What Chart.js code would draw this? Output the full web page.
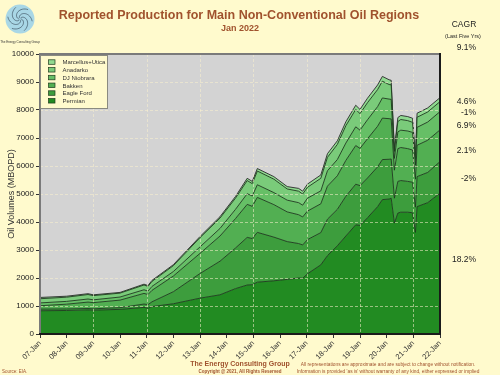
<!DOCTYPE html>
<html>
<head>
<meta charset="utf-8">
<script src="https://cdn.jsdelivr.net/npm/chart.js@4.4.1/dist/chart.umd.min.js"></script>
<style>
  html, body { margin: 0; padding: 0; background: #FFFACD; }
  #wrap { width: 500px; height: 375px; }
</style>
</head>
<body>
<div id="wrap"><canvas id="prodChart" width="500" height="375"></canvas></div>
<script>
// sample dates (decimal years)
const dates = [2007.0, 2008.0, 2008.8, 2009.0, 2010.0, 2010.9, 2011.05, 2011.2, 2012.0, 2013.0,
  2013.75, 2014.33, 2014.77, 2014.96, 2015.15, 2015.77, 2016.27, 2016.7, 2016.85, 2017.03,
  2017.53, 2017.78, 2018.15, 2018.47, 2018.84, 2019.0, 2019.28, 2019.66, 2019.84, 2020.09,
  2020.17, 2020.29, 2020.42, 2020.53, 2020.79, 2020.97, 2021.08, 2021.14, 2021.54, 2022.0];

// production by region, MBOPD
const permian = [830, 840, 860, 850, 880, 950, 920, 980, 1080, 1280,
  1400, 1620, 1750, 1760, 1850, 1900, 1950, 2000, 1990, 2150,
  2470, 2800, 3150, 3500, 3900, 3880, 4150, 4550, 4800, 4820,
  4850, 3960, 4320, 4350, 4350, 4330, 3630, 4550, 4690, 5030];
const eagleFord = [60, 55, 50, 50, 60, 120, 130, 170, 430, 880,
  1200, 1450, 1700, 1650, 1780, 1560, 1350, 1230, 1190, 1220,
  1150, 1300, 1300, 1420, 1450, 1420, 1420, 1420, 1430, 1420,
  1400, 890, 1130, 1130, 1100, 1090, 900, 1070, 1080, 1127];
const bakken = [120, 170, 230, 220, 270, 380, 360, 410, 560, 720,
  900, 1050, 1180, 1150, 1250, 1160, 1060, 1030, 1000, 1020,
  1030, 1180, 1200, 1280, 1380, 1330, 1400, 1450, 1480, 1450,
  1430, 1000, 1170, 1180, 1170, 1150, 1000, 1120, 1150, 1132];
const djNiobrara = [100, 100, 110, 100, 110, 130, 120, 140, 160, 230,
  270, 330, 380, 370, 450, 430, 420, 430, 420, 460,
  460, 550, 580, 620, 670, 650, 680, 700, 720, 700,
  700, 420, 600, 620, 630, 630, 500, 640, 650, 653];
const anadarko = [150, 150, 160, 150, 140, 170, 170, 180, 210, 330,
  370, 400, 470, 440, 490, 480, 400, 410, 400, 390,
  450, 480, 540, 620, 620, 590, 610, 610, 600, 520,
  520, 250, 370, 380, 370, 360, 200, 360, 360, 357];
const marcellusUtica = [45, 35, 30, 30, 25, 30, 30, 35, 35, 40,
  50, 60, 80, 80, 90, 90, 85, 100, 100, 113,
  120, 130, 130, 140, 150, 150, 160, 165, 170, 170,
  160, 90, 140, 145, 145, 145, 110, 145, 145, 142];

const regionNames = ['Permian', 'Eagle Ford', 'Bakken', 'DJ Niobrara', 'Anadarko', 'Marcellus+Utica'];
const regionColors = ['#228B22', '#3D9D3D', '#52AF52', '#66BF66', '#7ACB7A', '#90DA90'];
const cagrLabels = ['18.2%', '-2%', '2.1%', '6.9%', '-1%', '4.6%'];
const cagrTotal = '9.1%';

const seriesList = [permian, eagleFord, bakken, djNiobrara, anadarko, marcellusUtica];

const datasets = seriesList.map((vals, i) => ({
  label: regionNames[i],
  data: vals.map((v, j) => ({ x: dates[j], y: v })),
  backgroundColor: regionColors[i],
  borderColor: i === seriesList.length - 1 ? '#2a2a2a' : '#1d3a1d',
  borderWidth: 0.9,
  fill: i === 0 ? 'origin' : '-1',
  pointRadius: 0,
  tension: 0
}));

const FONT = '"Liberation Sans", Arial, sans-serif';
const BG = '#FFFACD';
const TITLE_COLOR = '#A0522D';

function drawLogo(ctx) {
  ctx.save();
  ctx.beginPath();
  ctx.arc(20, 19, 14.5, 0, Math.PI * 2);
  ctx.fillStyle = '#A9D7E6';
  ctx.fill();
  ctx.strokeStyle = '#2f3f4f';
  ctx.lineWidth = 0.6;
  for (let k = 0; k < 6; k++) {
    ctx.beginPath();
    for (let t = 0; t <= 1; t += 0.05) {
      const a = k * Math.PI / 3 + t * 2.4;
      const r = 1 + t * 12;
      const px = 20 + r * Math.cos(a), py = 19 + r * Math.sin(a);
      if (t === 0) ctx.moveTo(px, py); else ctx.lineTo(px, py);
    }
    ctx.stroke();
  }
  ctx.fillStyle = '#333';
  ctx.font = '3px ' + FONT;
  ctx.textAlign = 'center';
  ctx.fillText('The Energy Consulting Group', 20, 43);
  ctx.restore();
}

const decorPlugin = {
  id: 'decor',
  beforeDraw(chart) {
    const { ctx, chartArea: a } = chart;
    ctx.save();
    ctx.fillStyle = BG;
    ctx.fillRect(0, 0, chart.width, chart.height);
    ctx.fillStyle = '#D3D3D3';
    ctx.fillRect(a.left, a.top, a.right - a.left, a.bottom - a.top);
    ctx.restore();
  },
  afterDatasetsDraw(chart) {
    const { ctx, chartArea: a, scales } = chart;
    const xs = scales.x, ys = scales.y;
    ctx.save();
    ctx.setLineDash([3, 2]);
    ctx.lineWidth = 1;
    ctx.strokeStyle = 'rgba(250,240,205,0.55)';
    for (let yr = 2009; yr <= 2021; yr += 2) {
      const px = Math.round(xs.getPixelForValue(yr)) + 0.5;
      ctx.beginPath(); ctx.moveTo(px, a.top); ctx.lineTo(px, a.bottom); ctx.stroke();
    }
    for (let v = 1000; v < 10000; v += 1000) {
      const py = Math.round(ys.getPixelForValue(v)) + 0.5;
      ctx.beginPath(); ctx.moveTo(a.left, py); ctx.lineTo(a.right, py); ctx.stroke();
    }
    ctx.setLineDash([]);
    // frame: light top/left, dark right/bottom
    ctx.lineWidth = 2;
    ctx.strokeStyle = '#7a7a7a';
    ctx.beginPath(); ctx.moveTo(a.left, a.bottom); ctx.lineTo(a.left, a.top); ctx.lineTo(a.right, a.top); ctx.stroke();
    ctx.strokeStyle = '#1a1a1a';
    ctx.beginPath(); ctx.moveTo(a.left - 1, a.bottom); ctx.lineTo(a.right, a.bottom); ctx.lineTo(a.right, a.top - 1); ctx.stroke();

    // legend (top layer first)
    const lx = 40, ly = 55, lw = 67, lh = 53;
    ctx.fillStyle = BG;
    ctx.fillRect(lx, ly, lw, lh);
    ctx.lineWidth = 1;
    ctx.strokeStyle = '#8a8a80';
    ctx.strokeRect(lx + 0.5, ly + 0.5, lw, lh);
    ctx.font = '6px ' + FONT;
    ctx.textAlign = 'left';
    ctx.textBaseline = 'middle';
    const items = chart.data.datasets.slice().reverse();
    items.forEach((ds, i) => {
      const cy = 62.3 + i * 7.75;
      ctx.fillStyle = ds.backgroundColor;
      ctx.fillRect(48.5, cy - 2.5, 6.5, 4.5);
      ctx.strokeStyle = '#1d3a1d';
      ctx.lineWidth = 0.7;
      ctx.strokeRect(48.5, cy - 2.5, 6.5, 4.5);
      ctx.fillStyle = '#333';
      ctx.fillText(ds.label, 62.5, cy + 0.3);
    });
    ctx.restore();
  },
  afterDraw(chart) {
    const { ctx } = chart;
    ctx.save();
    drawLogo(ctx);
    ctx.textAlign = 'center';
    ctx.textBaseline = 'middle';
    ctx.fillStyle = TITLE_COLOR;
    ctx.font = 'bold 12.5px ' + FONT;
    ctx.fillText('Reported Production for Main Non-Conventional Oil Regions', 239, 16);
    ctx.font = 'bold 9px ' + FONT;
    ctx.fillText('Jan 2022', 240, 28.5);

    // y axis title
    ctx.save();
    ctx.translate(12, 194);
    ctx.rotate(-Math.PI / 2);
    ctx.fillStyle = '#333';
    ctx.font = '9px ' + FONT;
    ctx.fillText('Oil Volumes (MBOPD)', 0, 0);
    ctx.restore();

    // CAGR column
    ctx.fillStyle = '#222';
    ctx.font = '8.5px ' + FONT;
    ctx.fillText('CAGR', 464, 25);
    ctx.font = '5.5px ' + FONT;
    ctx.fillText('(Last Five Yrs)', 463, 36);
    ctx.textAlign = 'right';
    ctx.font = '8.5px ' + FONT;
    ctx.fillText(cagrTotal, 476, 48);
    const cagrY = [260, 179, 150.5, 126, 112.5, 101.5];
    cagrLabels.forEach((t, i) => ctx.fillText(t, 476, cagrY[i]));

    // footer
    ctx.fillStyle = TITLE_COLOR;
    ctx.textAlign = 'left';
    ctx.font = '4.5px ' + FONT;
    ctx.fillText('Source: EIA.', 2, 372);
    ctx.textAlign = 'center';
    ctx.font = 'bold 7px ' + FONT;
    ctx.fillText('The Energy Consulting Group', 240, 364);
    ctx.font = 'bold 4.5px ' + FONT;
    ctx.fillText('Copyright @ 2021, All Rights Reserved', 240, 372);
    ctx.font = '4.8px ' + FONT;
    ctx.fillText('All representations are approximate and are subject to change without notification.', 388, 364.5);
    ctx.fillText("Information is provided 'as is' without warranty of any kind, either expressed or implied", 388, 372);
    ctx.restore();
  }
};

new Chart(document.getElementById('prodChart'), {
  type: 'line',
  data: { datasets },
  options: {
    responsive: false,
    animation: false,
    devicePixelRatio: 1,
    layout: { padding: { left: 0, top: 54, right: 60, bottom: 0 } },
    plugins: { legend: { display: false }, tooltip: { enabled: false } },
    elements: { line: { borderJoinStyle: 'round' } },
    scales: {
      x: {
        type: 'linear',
        min: 2007,
        max: 2022,
        afterFit(scale) { scale.height = 41; },
        grid: { drawOnChartArea: false, drawTicks: true, tickLength: 4, tickColor: '#333', tickWidth: 1 },
        border: { display: false },
        ticks: {
          stepSize: 1,
          autoSkip: false,
          minRotation: 45,
          maxRotation: 45,
          padding: 1,
          color: '#333',
          font: { family: FONT, size: 7.5 },
          callback: (v) => String(Math.round(v) % 100).padStart(2, '0') + '-Jan'
        }
      },
      y: {
        stacked: true,
        min: 0,
        max: 10000,
        afterFit(scale) { scale.width = 40; },
        grid: { drawOnChartArea: false, drawTicks: true, tickLength: 4, tickColor: '#333', tickWidth: 1 },
        border: { display: false },
        ticks: {
          stepSize: 1000,
          padding: 2,
          color: '#222',
          font: { family: FONT, size: 8 },
          callback: (v) => String(v)
        }
      }
    }
  },
  plugins: [decorPlugin]
});
</script>
</body>
</html>
